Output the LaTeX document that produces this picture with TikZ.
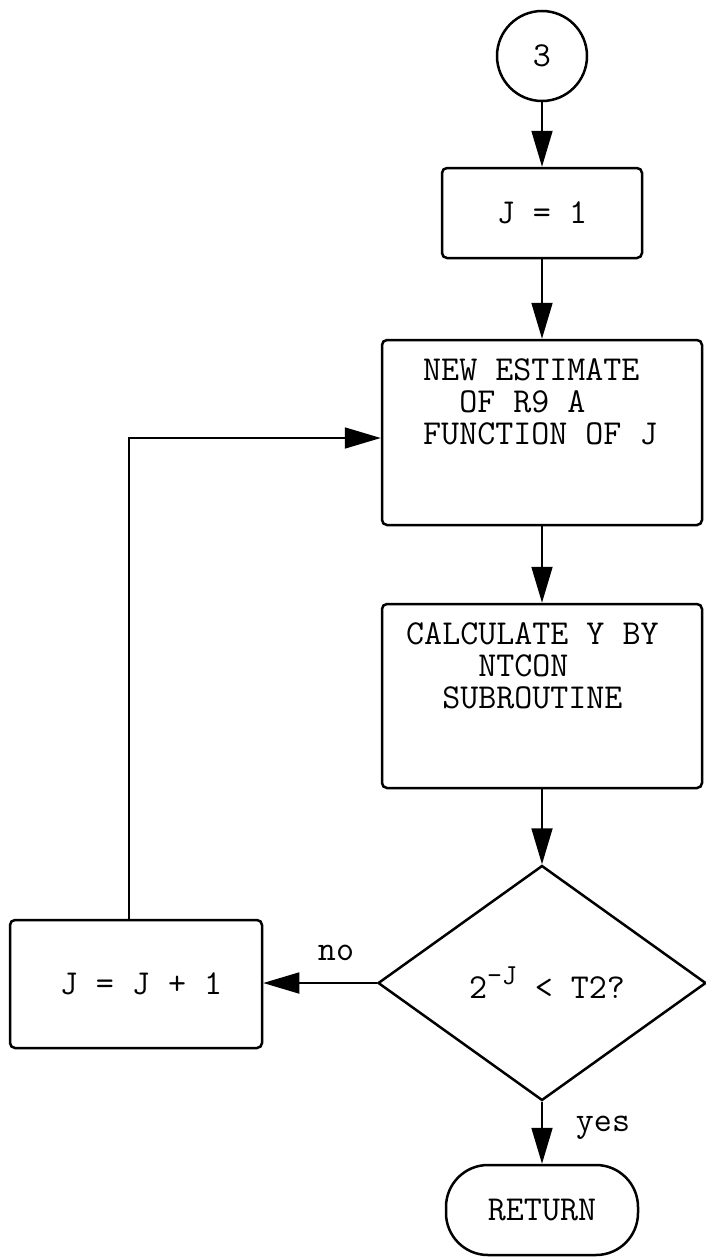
\documentclass[tikz,border=0pt]{standalone}
\usepackage{fontspec}
\usetikzlibrary{shapes.geometric,arrows.meta,calc}
\newcommand\tyfont{\ttfamily\fontsize{35}{32}\selectfont}
\tikzset{
  box/.style={draw, line width=2.5pt, rounded corners=5pt, inner sep=0pt},
  conn/.style={line width=1.8pt, -{Triangle[length=36pt,width=21pt]}},
  txt/.style={font=\tyfont, inner sep=0pt},
  para/.style={font=\tyfont, inner sep=0pt, align=left, anchor=north west},
}
\begin{document}
\begin{tikzpicture}[x=1pt,y=-1pt]
\useasboundingbox (0,0) rectangle (706,1258);
\node[draw, circle, line width=2.5pt, minimum size=90pt, inner sep=0pt, font=\tyfont] (c3) at (542,56) {3};
\node[box, minimum width=200pt, minimum height=90pt, font=\tyfont] (j1) at (542,213) {J = 1};
\node[box, minimum width=320pt, minimum height=185pt] (est) at (542,432.5) {};
\node[para] (esttxt) at (423,358) {NEW ESTIMATE\\\phantom{XX}OF R9 A\\FUNCTION OF J};
\node[box, minimum width=320pt, minimum height=184pt] (calc) at (542,696) {};
\node[para] (calctxt) at (406,622) {CALCULATE Y BY\\\phantom{XXXX}NTCON\\\phantom{XX}SUBROUTINE};
\node[draw, diamond, line width=2.5pt, minimum width=328pt, minimum height=235pt, inner sep=0pt, font=\tyfont] (dec) at (542,983) {\hspace{10pt}2\raisebox{14pt}{\fontsize{29}{29}\selectfont -J}\hspace{18pt}<\hspace{18pt}T2?};
\node[box, minimum width=252pt, minimum height=128pt, font=\tyfont] (jj) at (136,984) {\hspace{10pt}J = J + 1};
\node[draw, line width=2.5pt, rounded corners=42pt, minimum width=192pt, minimum height=90pt, inner sep=0pt, font=\tyfont] (ret) at (542,1210) {RETURN};
\node[txt, anchor=base] (no) at (336,960) {no};
\node[txt, anchor=base] (yes) at (603,1131) {yes};
\draw[conn] (c3) -- (j1);
\draw[conn] (j1) -- (est);
\draw[conn] (est) -- (calc);
\draw[conn] (calc) -- (dec);
\draw[conn] (dec) -- (ret);
\draw[conn] (dec.west) -- (dec.west -| jj.east);
\coordinate (lp) at (129,438);
\draw[conn] (lp |- jj.north) -- (lp) -- (lp -| est.west);
\end{tikzpicture}
\end{document}
